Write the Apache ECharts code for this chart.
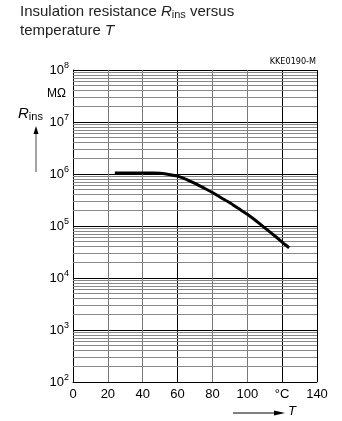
<!DOCTYPE html>
<html><head><meta charset="utf-8">
<script src="https://cdn.jsdelivr.net/npm/echarts@6/dist/echarts.min.js"></script>
<style>html,body{margin:0;padding:0;background:#fff}#c{width:342px;height:421px}</style>
</head><body><div id="c"></div>
<script>
// Data
const temperature = [24, 35, 46, 50, 55, 60, 65, 70, 75, 80, 85, 90, 95, 100, 105, 110, 114, 118, 121, 124];
const resistance = [1.05e6, 1.05e6, 1.05e6, 1.03e6, 9.8e5, 9.1e5, 7.9e5, 6.6e5, 5.4e5, 4.4e5, 3.5e5, 2.8e5, 2.16e5, 1.68e5, 1.26e5, 9.2e4, 7.2e4, 5.6e4, 4.6e4, 3.8e4];
const xTicks = [0, 20, 40, 60, 80, 100, 120, 140];
const xTickLabels = ['0', '20', '40', '60', '80', '100', '°C', '140'];
const minorMultipliers = [2, 3, 4, 5, 6, 7, 8, 9];

const minorLines = [];
for (let d = 2; d < 8; d++) {
  for (const m of minorMultipliers) minorLines.push({ yAxis: m * Math.pow(10, d) });
}

const font = '"Liberation Sans Narrow", "Liberation Sans", Arial, sans-serif';
const chart = echarts.init(document.getElementById('c'), null, { renderer: 'canvas' });
chart.setOption({
  animation: false,
  backgroundColor: '#fff',
  grid: { left: 73, right: 25, top: 70, bottom: 39, containLabel: false },
  xAxis: {
    type: 'value', min: 0, max: 140, interval: 20,
    axisLine: { show: true, lineStyle: { color: '#000', width: 1 } },
    axisTick: { show: false },
    axisLabel: {
      color: '#000', fontFamily: font, fontSize: 13, margin: 6,
      formatter: v => xTickLabels[xTicks.indexOf(v)]
    },
    splitLine: { show: true, lineStyle: { color: ['#000', '#777', '#777', '#000', '#777', '#777', '#000', '#000'], width: 1 } }
  },
  yAxis: {
    type: 'log', logBase: 10, min: 100, max: 1e8, splitNumber: 6,
    axisLine: { show: true, lineStyle: { color: '#000', width: 1 } },
    axisTick: { show: false },
    axisLabel: {
      color: '#000', fontFamily: font, fontSize: 13, margin: 4,
      formatter: v => '10{sup|' + Math.round(Math.log10(v)) + '}',
      rich: { sup: { fontSize: 9, fontFamily: font, color: '#000', padding: [0, 0, 9, 0] } }
    },
    splitLine: { show: true, lineStyle: { color: '#000', width: 1.2 } }
  },
  series: [{
    type: 'line',
    data: temperature.map((t, i) => [t, resistance[i]]),
    smooth: 0.25,
    symbol: 'none',
    lineStyle: { color: '#000', width: 3 },
    z: 5,
    markLine: {
      silent: true, symbol: 'none', animation: false,
      label: { show: false },
      lineStyle: { color: '#888', width: 1, type: 'solid' },
      data: minorLines
    }
  }],
  graphic: [
    { type: 'text', left: 20, top: 4, style: {
      text: 'Insulation resistance {i|R}{sub|ins} versus', fill: '#222', font: '15px "Liberation Sans", Arial, sans-serif',
      rich: { i: { fontStyle: 'italic', fontSize: 15, fontFamily: '"Liberation Sans", Arial' }, sub: { fontSize: 11, fontFamily: '"Liberation Sans", Arial', padding: [6, 0, 0, 0] } } } },
    { type: 'text', left: 20, top: 23, style: {
      text: 'temperature {i|T}', fill: '#222', font: '15px "Liberation Sans", Arial, sans-serif',
      rich: { i: { fontStyle: 'italic', fontSize: 15, fontFamily: '"Liberation Sans", Arial' } } } },
    { type: 'text', right: 26, top: 57, style: { text: 'KKE0190-M', fill: '#000', font: '9px "Liberation Sans Narrow", "DejaVu Sans Condensed", sans-serif' } },
    { type: 'text', left: 47, top: 88, style: { text: 'MΩ', fill: '#000', font: '12px ' + font } },
    { type: 'text', left: 18, top: 106, style: {
      text: '{i|R}{sub|ins}', fill: '#000',
      rich: { i: { fontStyle: 'italic', fontSize: 15, fontFamily: font }, sub: { fontSize: 11, fontFamily: font, padding: [6, 0, 0, 0] } } } },
    { type: 'line', shape: { x1: 36, y1: 172, x2: 36, y2: 133 }, style: { stroke: '#666', lineWidth: 1.2 } },
    { type: 'polygon', shape: { points: [[33.5, 134], [38.5, 134], [36, 126]] }, style: { fill: '#000' } },
    { type: 'line', shape: { x1: 233, y1: 413, x2: 276, y2: 413 }, style: { stroke: '#000', lineWidth: 1 } },
    { type: 'polygon', shape: { points: [[274, 410.5], [274, 415.5], [285, 413]] }, style: { fill: '#000' } },
    { type: 'text', left: 288, top: 405, style: { text: 'T', fill: '#000', font: 'italic 13px ' + font } }
  ]
});
</script></body></html>
